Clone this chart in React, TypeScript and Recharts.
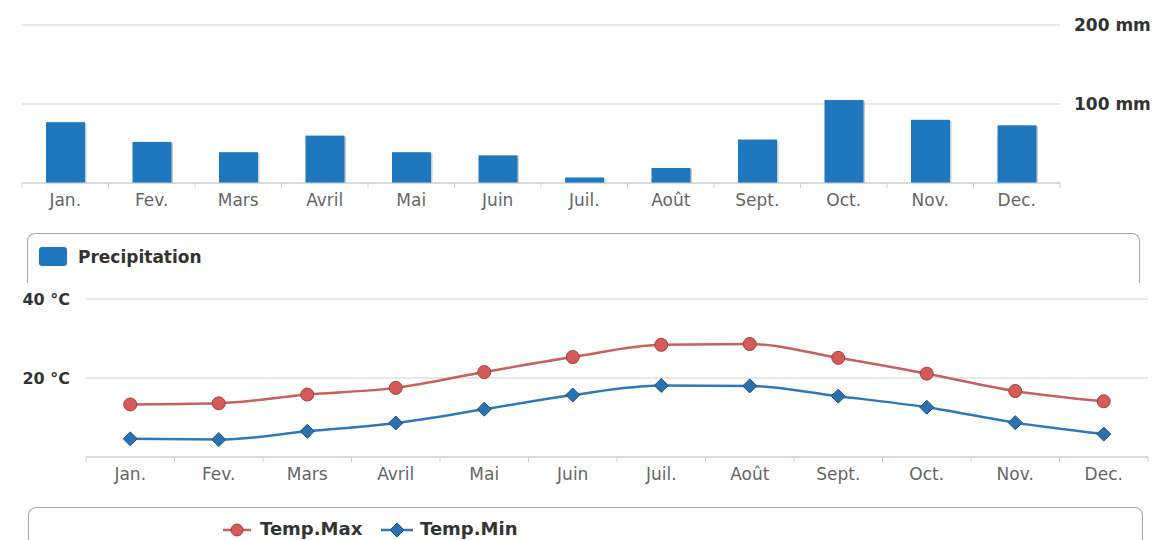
import {
  Bar,
  BarChart,
  CartesianGrid,
  Legend,
  Line,
  LineChart,
  XAxis,
  YAxis,
} from 'recharts';

const MONTHS = ['Jan.', 'Fev.', 'Mars', 'Avril', 'Mai', 'Juin', 'Juil.', 'Août', 'Sept.', 'Oct.', 'Nov.', 'Dec.'];
const PRECIPITATION = [77, 52, 39, 60, 39, 35, 7, 19, 55, 105, 80, 73];
const TEMP_MAX = [13.3, 13.6, 15.8, 17.5, 21.5, 25.3, 28.4, 28.6, 25.1, 21.1, 16.7, 14.1];
const TEMP_MIN = [4.6, 4.4, 6.5, 8.6, 12.1, 15.7, 18.1, 18.0, 15.4, 12.6, 8.7, 5.8];
const PRECIP_TICKS = [0, 100, 200];
const TEMP_TICKS = [0, 20, 40];

const FONT = '"DejaVu Sans", Verdana, sans-serif';
const WIDTH = 1158;
const BAR_BLUE = '#1f77bd';
const RED = '#c8605b';
const BLUE = '#2f79bb';
const AXIS = '#c0d0e0';
const GRID = '#cfcfcf';

const precipData = MONTHS.map((mois, i) => ({ mois, precip: PRECIPITATION[i] }));
const tempData = MONTHS.map((mois, i) => ({ mois, max: TEMP_MAX[i], min: TEMP_MIN[i] }));

// top chart: plot 22 -> 1060, bottom chart: plot 86 -> 1148
const TOP = { left: 22, axisW: 98, right: 0 };
const BOT = { left: 0, axisW: 86, right: 10 };
const topBand = (WIDTH - TOP.left - TOP.axisW - TOP.right) / MONTHS.length;
const botBand = (WIDTH - BOT.left - BOT.axisW - BOT.right) / MONTHS.length;

function MonthTick(props: any) {
  const { x, y, payload, band, index } = props;
  const isLast = index === MONTHS.length - 1;
  return (
    <g>
      <line x1={x - band / 2} x2={x - band / 2} y1={y} y2={y + 5} stroke={AXIS} />
      {isLast && <line x1={x + band / 2} x2={x + band / 2} y1={y} y2={y + 5} stroke={AXIS} />}
      <text x={x} y={y + 23} textAnchor="middle" fill="#666" fontSize={17} fontFamily={FONT}>
        {payload.value}
      </text>
    </g>
  );
}

function ShadowBar(props: any) {
  const { x, y, width, height, fill } = props;
  if (!height) return null;
  return (
    <g>
      <rect x={x + 1.5} y={y + 1} width={width} height={height - 1} fill="#9a9a9a" opacity={0.5} />
      <rect x={x} y={y} width={width} height={height} fill={fill} />
    </g>
  );
}

const boxStyle = {
  border: '1.5px solid #a9a9a9',
  borderBottom: 'none',
  borderRadius: '8px 8px 0 0',
  boxSizing: 'border-box' as const,
  fontFamily: FONT,
};

function PrecipLegend() {
  return (
    <div style={{ ...boxStyle, width: 1113, height: 50, position: 'relative' }}>
      <div
        style={{
          position: 'absolute',
          left: 11,
          top: 13,
          width: 28,
          height: 19,
          borderRadius: 3,
          background: BAR_BLUE,
        }}
      />
      <span style={{ position: 'absolute', left: 50, top: 13, fontSize: 17, fontWeight: 'bold', color: '#333' }}>
        Precipitation
      </span>
    </div>
  );
}

function TempLegend() {
  return (
    <div style={{ ...boxStyle, width: 1115, height: 40, position: 'relative' }}>
      <svg width={200} height={30} style={{ position: 'absolute', left: 193, top: 7 }}>
        <line x1={1} x2={29} y1={15} y2={15} stroke={RED} strokeWidth={2.5} />
        <circle cx={15} cy={15} r={6} fill="#d65b58" stroke="#9e413e" strokeWidth={1} />
        <line x1={159} x2={191} y1={15} y2={15} stroke={BLUE} strokeWidth={2.5} />
        <path d="M175,8 L182,15 L175,22 L168,15 Z" fill="#2b70b0" stroke="#1c4f80" strokeWidth={1} />
      </svg>
      <span style={{ position: 'absolute', left: 231, top: 10, fontSize: 18, fontWeight: 'bold', color: '#333' }}>
        Temp.Max
      </span>
      <span style={{ position: 'absolute', left: 391, top: 10, fontSize: 18, fontWeight: 'bold', color: '#333' }}>
        Temp.Min
      </span>
    </div>
  );
}

function MaxDot(props: any) {
  const { cx, cy, index } = props;
  return <circle key={`max-${index}`} cx={cx} cy={cy} r={6.5} fill="#d65b58" stroke="#9e413e" strokeWidth={1} />;
}

function MinDot(props: any) {
  const { cx, cy, index } = props;
  const s = 7;
  return (
    <path
      key={`min-${index}`}
      d={`M${cx},${cy - s} L${cx + s},${cy} L${cx},${cy + s} L${cx - s},${cy} Z`}
      fill="#2b70b0"
      stroke="#1c4f80"
      strokeWidth={1}
    />
  );
}

export default function App() {
  return (
    <div
      style={{
        position: 'absolute',
        top: 0,
        left: 0,
        width: WIDTH,
        height: 540,
        overflow: 'hidden',
        background: '#fff',
        fontFamily: FONT,
      }}
    >
      <div style={{ position: 'absolute', top: 0, left: 0 }}>
        <BarChart
          width={WIDTH}
          height={290}
          data={precipData}
          margin={{ top: 25, right: TOP.right, bottom: 0, left: TOP.left }}
        >
          <CartesianGrid vertical={false} stroke={GRID} />
          <XAxis
            dataKey="mois"
            height={107}
            axisLine={{ stroke: AXIS }}
            tickLine={false}
            tickSize={0}
            tickMargin={0}
            interval={0}
            tick={(p: any) => <MonthTick {...p} band={topBand} />}
          />
          <YAxis
            orientation="right"
            width={TOP.axisW}
            domain={[0, 200]}
            ticks={PRECIP_TICKS}
            axisLine={false}
            tickLine={false}
            tickSize={0}
            tickMargin={14}
            tickFormatter={(v) => (v === 0 ? '' : `${v} mm`)}
            tick={{ fill: '#333', fontSize: 17, fontWeight: 'bold', fontFamily: FONT }}
          />
          <Bar dataKey="precip" fill={BAR_BLUE} barSize={39} shape={ShadowBar} isAnimationActive={false} />
          <Legend
            layout="horizontal"
            verticalAlign="middle"
            align="center"
            content={() => <PrecipLegend />}
            wrapperStyle={{ top: 233, left: 27, width: 1113, height: 50 }}
          />
        </BarChart>
      </div>

      <div style={{ position: 'absolute', top: 290, left: 0 }}>
        <LineChart
          width={WIDTH}
          height={250}
          data={tempData}
          margin={{ top: 9, right: BOT.right, bottom: 0, left: BOT.left }}
        >
          <CartesianGrid vertical={false} stroke={GRID} />
          <XAxis
            dataKey="mois"
            height={83}
            padding={{ left: botBand / 2, right: botBand / 2 }}
            axisLine={{ stroke: AXIS }}
            tickLine={false}
            tickSize={0}
            tickMargin={0}
            interval={0}
            tick={(p: any) => <MonthTick {...p} band={botBand} />}
          />
          <YAxis
            width={BOT.axisW}
            domain={[0, 40]}
            ticks={TEMP_TICKS}
            axisLine={false}
            tickLine={false}
            tickSize={0}
            tickMargin={16}
            tickFormatter={(v) => (v === 0 ? '' : `${v} °C`)}
            tick={{ fill: '#333', fontSize: 16, fontWeight: 'bold', fontFamily: FONT }}
          />
          <Line
            type="monotone"
            dataKey="max"
            stroke={RED}
            strokeWidth={2.5}
            dot={MaxDot}
            activeDot={false}
            isAnimationActive={false}
          />
          <Line
            type="monotone"
            dataKey="min"
            stroke={BLUE}
            strokeWidth={2.5}
            dot={MinDot}
            activeDot={false}
            isAnimationActive={false}
          />
          <Legend
            layout="horizontal"
            verticalAlign="middle"
            align="center"
            content={() => <TempLegend />}
            wrapperStyle={{ top: 217, left: 28, width: 1115, height: 40 }}
          />
        </LineChart>
      </div>
    </div>
  );
}
